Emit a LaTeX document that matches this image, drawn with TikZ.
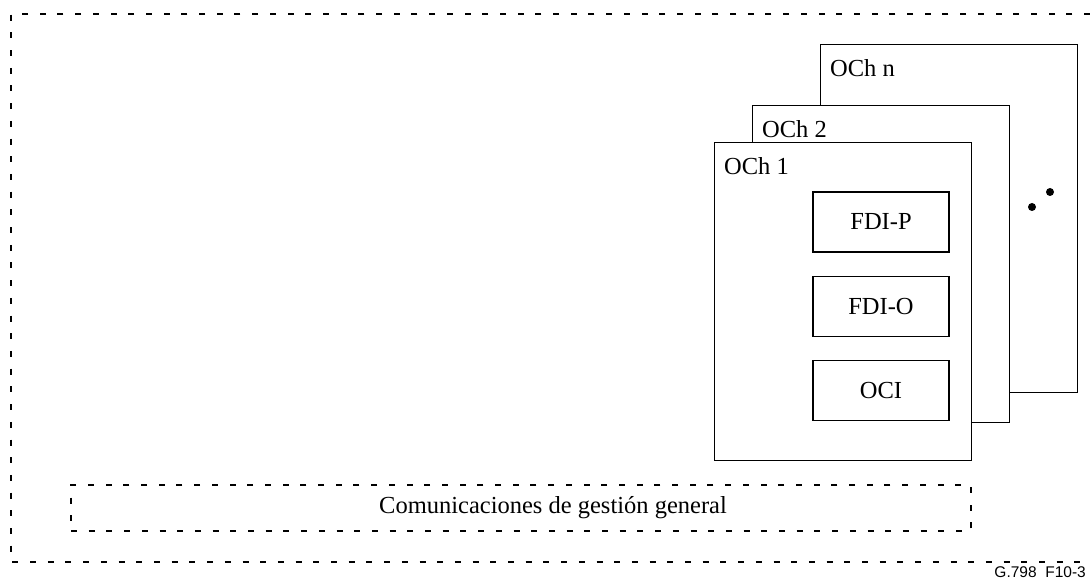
\documentclass[tikz,border=0pt]{standalone}
\usepackage{fontspec}
\setmainfont{Liberation Serif}
\newfontfamily\tagfont{Liberation Sans}
\usetikzlibrary{positioning}

\begin{document}
\begin{tikzpicture}[x=1pt,y=-1pt,node distance=23pt,font=\fontsize{24.5}{28}\selectfont]
    \tikzstyle{frame}=[draw,line width=1.6pt,dash pattern=on 6pt off 11.7pt]
    \tikzstyle{och}=[draw,line width=1.3pt,fill=white,anchor=north west,minimum width=257pt,inner sep=0pt]
    \tikzstyle{fdi}=[draw,line width=1.3pt,minimum width=136pt,minimum height=60pt,inner sep=0pt]
    \tikzstyle{tag}=[anchor=north west,inner sep=0pt]

    \useasboundingbox (0,0) rectangle (1090,580);
    \draw[frame] (1090,14) -| (11,562) -- (1090,562);

    \node[och,minimum height=348pt] (ochn) at (820,44)  {};
    \node[tag] (lbln) at ([shift={(10,15)}]ochn.north west) {OCh n};
    \fill (1032,207) circle (4pt) (1050,192) circle (4pt);

    \node[och,minimum height=317pt] (och2) at (752,105) {};
    \node[tag] (lbl2) at ([shift={(10,15)}]och2.north west) {OCh 2};

    \node[och,minimum height=318pt] (och1) at (714,142) {};
    \node[tag] (lbl1) at ([shift={(10,15)}]och1.north west) {OCh 1};

    \node[fdi]             (fdip) at (881,222) {FDI-P};
    \node[fdi,below=of fdip] (fdio)            {FDI-O};
    \node[fdi,below=of fdio] (oci)             {OCI};

    \node[frame,minimum width=900pt,minimum height=46pt] (mgmt) at (521,508) {};
    \node (mgmttext) at ([xshift=32pt]mgmt.center) {Comunicaciones de gesti\'on general};

    \node[font=\tagfont\fontsize{15.5}{18}\selectfont,anchor=base east,inner sep=0pt] (figtag) at (1086,577) {G.798\ \ F10-3};
\end{tikzpicture}
\end{document}
